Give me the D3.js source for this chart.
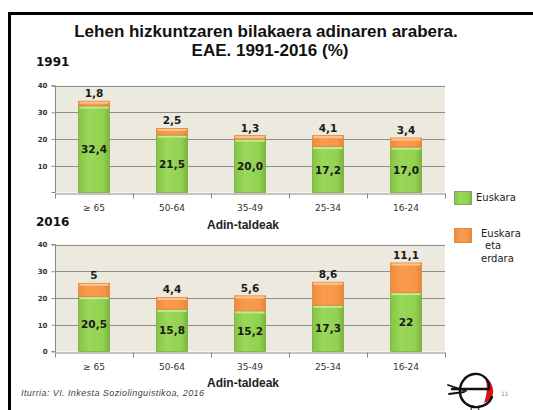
<!DOCTYPE html>
<html><head><meta charset="utf-8">
<script src="https://cdn.jsdelivr.net/npm/d3@7"></script>
<style>body{margin:0;background:#fff}svg{display:block}</style>
</head><body>
<svg id="c" width="533" height="410"></svg>
<script>
const categories = ["≥ 65","50-64","35-49","25-34","16-24"];
const euskara1991 = [32.4,21.5,20.0,17.2,17.0];
const both1991 = [1.8,2.5,1.3,4.1,3.4];
const euskaraLabels1991 = ["32,4","21,5","20,0","17,2","17,0"];
const bothLabels1991 = ["1,8","2,5","1,3","4,1","3,4"];
const euskara2016 = [20.5,15.8,15.2,17.3,22];
const both2016 = [5,4.4,5.6,8.6,11.1];
const euskaraLabels2016 = ["20,5","15,8","15,2","17,3","22"];
const bothLabels2016 = ["5","4,4","5,6","8,6","11,1"];
const yTicks1991 = [10,20,30,40];
const yTicks2016 = [0,10,20,30,40];
const seriesNames = ["Euskara","Euskara eta erdara"];

const svg = d3.select("#c");
const defs = svg.append("defs");
function grad(id, stops){
  const g = defs.append("linearGradient").attr("id",id).attr("x1","0").attr("x2","1").attr("y1","0").attr("y2","0");
  stops.forEach(s=>g.append("stop").attr("offset",s[0]).attr("stop-color",s[1]));
}
grad("gG",[[0,"#86c445"],[0.35,"#9ad85a"],[0.8,"#92d050"],[1,"#7cb43c"]]);
grad("gO",[[0,"#f08a3c"],[0.35,"#fa9c50"],[0.8,"#f79646"],[1,"#e6853a"]]);

// slide border
svg.append("line").attr("x1",8).attr("x2",533).attr("y1",13.5).attr("y2",13.5).attr("stroke","#000").attr("stroke-width",3);
svg.append("line").attr("x1",9.5).attr("x2",9.5).attr("y1",12).attr("y2",410).attr("stroke","#000").attr("stroke-width",3);

// title
svg.append("text").attr("x",266).attr("y",37).attr("text-anchor","middle")
  .attr("font-family","Liberation Sans, Arial, sans-serif").attr("font-weight","bold").attr("font-size",17)
  .attr("fill","#111").text("Lehen hizkuntzaren bilakaera adinaren arabera.");
svg.append("text").attr("x",270).attr("y",56).attr("text-anchor","middle")
  .attr("font-family","Liberation Sans, Arial, sans-serif").attr("font-weight","bold").attr("font-size",17)
  .attr("fill","#111").text("EAE. 1991-2016 (%)");

const x = d3.scaleBand().domain(categories).range([55,445]).paddingInner(0.6).paddingOuter(0.3);

function panel(yearLabel, yearY, y0, y40, eus, both, eusL, bothL, ticks, axisTitleY){
  const y = d3.scaleLinear().domain([0,40]).range([y0,y40]);
  const g = svg.append("g");
  g.append("text").attr("x",36).attr("y",yearY).attr("font-family","DejaVu Sans, sans-serif")
    .attr("font-weight","bold").attr("font-size",12).attr("fill","#111").text(yearLabel);
  g.append("rect").attr("x",55).attr("y",y(40)).attr("width",390).attr("height",y(0)-y(40)).attr("fill","#ece9de");
  // grid
  g.selectAll(".grid").data([10,20,30,40]).join("line")
    .attr("x1",55).attr("x2",445).attr("y1",d=>Math.round(y(d))+0.5).attr("y2",d=>Math.round(y(d))+0.5)
    .attr("stroke","#8e8e8e").attr("stroke-width",1);
  // y axis
  const ya = g.append("g").attr("transform","translate(55.5,0)")
    .call(d3.axisLeft(y).tickValues(ticks).tickSize(4).tickPadding(4).tickFormat(d3.format("d")));
  ya.select(".domain").attr("stroke","#888").attr("d",`M-4,${y(0)}H0V${y(40)}H-4`);
  ya.selectAll(".tick line").attr("stroke","#888");
  ya.selectAll(".tick text").attr("font-family","DejaVu Sans, sans-serif").attr("font-weight","bold")
    .attr("font-size",7).attr("fill","#333");
  // x axis
  const xa = g.append("g").attr("transform",`translate(0,${Math.round(y(0))+0.5})`)
    .call(d3.axisBottom(x).tickSize(0).tickPadding(11));
  xa.select(".domain").attr("stroke","#888");
  xa.selectAll(".tick text").attr("font-family","DejaVu Sans, sans-serif").attr("font-size",9).attr("fill","#333");
  const bounds = d3.range(6).map(i=>55+i*x.step());
  xa.selectAll(".bt").data(bounds).join("line").attr("x1",d=>Math.round(d)+0.5).attr("x2",d=>Math.round(d)+0.5)
    .attr("y1",0).attr("y2",5).attr("stroke","#888");
  g.append("text").attr("x",243).attr("y",axisTitleY).attr("text-anchor","middle")
    .attr("font-family","Liberation Sans, Arial, sans-serif").attr("font-weight","bold").attr("font-size",12)
    .attr("fill","#222").text("Adin-taldeak");
  // bars
  const bw = x.bandwidth();
  categories.forEach((c,i)=>{
    const xg = x(c);
    const ge = y(0)-y(eus[i]);
    g.append("rect").attr("x",xg).attr("y",y(eus[i])).attr("width",bw).attr("height",ge)
      .attr("fill","url(#gG)").attr("stroke","#7aaa45").attr("stroke-width",0.8);
    g.append("rect").attr("x",xg+1).attr("y",y(eus[i])+0.5).attr("width",bw-2).attr("height",2).attr("fill","#c4ec95");
    const yTop = y(eus[i]+both[i]);
    g.append("rect").attr("x",xg).attr("y",yTop).attr("width",bw).attr("height",y(eus[i])-yTop)
      .attr("fill","url(#gO)").attr("stroke","#e0883e").attr("stroke-width",0.8);
    g.append("rect").attr("x",xg+1).attr("y",yTop+0.5).attr("width",bw-2).attr("height",2).attr("fill","#fcc690");
    g.append("text").attr("x",xg+bw/2).attr("y",(y(0)+y(eus[i]))/2+4).attr("text-anchor","middle")
      .attr("font-family","DejaVu Sans, sans-serif").attr("font-weight","bold").attr("font-size",10.5)
      .attr("fill","#1a1a1a").text(eusL[i]);
    g.append("text").attr("x",xg+bw/2).attr("y",yTop-4).attr("text-anchor","middle")
      .attr("font-family","DejaVu Sans, sans-serif").attr("font-weight","bold").attr("font-size",10.5)
      .attr("fill","#1a1a1a").text(bothL[i]);
  });
}
panel("1991",66,192.5,85.7,euskara1991,both1991,euskaraLabels1991,bothLabels1991,yTicks1991,229);
panel("2016",226,351.5,244.5,euskara2016,both2016,euskaraLabels2016,bothLabels2016,yTicks2016,387);

// legend
const lg = svg.append("g");
lg.append("rect").attr("x",454.5).attr("y",191.5).attr("width",17).attr("height",13).attr("fill","url(#gG)").attr("stroke","#8aa070");
lg.append("text").attr("x",476).attr("y",201).attr("font-family","DejaVu Sans, sans-serif").attr("font-size",10).attr("fill","#222").text(seriesNames[0]);
lg.append("rect").attr("x",454.5).attr("y",228.5).attr("width",17).attr("height",14).attr("fill","url(#gO)").attr("stroke","#e0883e");
const lt = lg.append("text").attr("font-family","DejaVu Sans, sans-serif").attr("font-size",10).attr("fill","#222");
lt.append("tspan").attr("x",481).attr("y",237).text("Euskara");
lt.append("tspan").attr("x",485).attr("y",249).text("eta");
lt.append("tspan").attr("x",481).attr("y",262).text("erdara");

// source
svg.append("text").attr("x",21).attr("y",396).attr("font-family","Liberation Sans, Arial, sans-serif")
  .attr("font-style","italic").attr("font-size",9).attr("fill","#444")
  .attr("textLength",183).attr("lengthAdjust","spacing").text("Iturria: VI. Inkesta Soziolinguistikoa, 2016");

// logo (simplified robin)
svg.append("path").attr("d","M485,377 C492,381 495,390 492,397 C490,400 487,402 484,403 C487,395 488,385 485,377Z").attr("fill","#e01010");
const lo = svg.append("g").attr("fill","none").attr("stroke","#111").attr("stroke-width",2.4).attr("stroke-linecap","round");
lo.append("path").attr("d","M452,389 L489,389 C490,379 482,373 474,374 C465,375 459,384 460,393 C461,402 469,408 478,407 C485,406 490,402 492,397");
lo.append("path").attr("d","M448,385 L466,391 M449,394 L464,392").attr("stroke-width",1.8);
svg.append("circle").attr("cx",487).attr("cy",381).attr("r",1.1).attr("fill","#111");
svg.append("path").attr("d","M472,405 L471,410 M478,406 L479,410").attr("stroke","#111").attr("stroke-width",1);
svg.append("text").attr("x",501).attr("y",396).attr("font-family","DejaVu Sans, sans-serif").attr("font-size",6).attr("fill","#8a8aa0").text("11");
</script>
</body></html>
